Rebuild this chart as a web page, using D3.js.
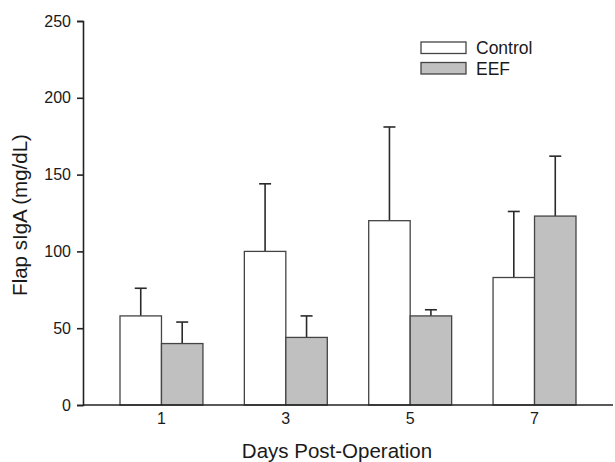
<!DOCTYPE html>
<html>
<head>
<meta charset="utf-8">
<script src="https://cdn.jsdelivr.net/npm/d3@7"></script>
<style>
  body { margin: 0; background: #fff; }
  text { font-family: "Liberation Sans", Arial, sans-serif; fill: #1a1a1a; }
</style>
</head>
<body>
<div id="chart"></div>
<script>
var days = ['1', '3', '5', '7']
var series = ['Control', 'EEF']
var controlMean = [58, 100, 120, 83]
var controlErr = [18, 44, 61, 43]
var eefMean = [40, 44, 58, 123]
var eefErr = [14, 14, 4, 39]
var yTicks = [0, 50, 100, 150, 200, 250]

var width = 615, height = 462
var margin = {top: 21, right: 2, bottom: 57, left: 83}

var svg = d3.select('#chart').append('svg')
    .attr('width', width).attr('height', height)

var y = d3.scaleLinear().domain([0, 250]).range([height - margin.bottom, margin.top])
var x = d3.scaleBand().domain(days).range([120, 576]).paddingInner(0.333).paddingOuter(0)
var xs = d3.scaleBand().domain(series).range([0, x.bandwidth()])
var fills = {Control: '#ffffff', EEF: '#c0c0c0'}

var rows = []
days.forEach(function(d, i){
  rows.push({day: d, s: 'Control', v: controlMean[i], e: controlErr[i]})
  rows.push({day: d, s: 'EEF', v: eefMean[i], e: eefErr[i]})
})

// error bars first, bars over them
var eb = svg.append('g').attr('stroke', '#2a2a2a').attr('stroke-width', 1.6)
rows.forEach(function(r){
  var cx = x(r.day) + xs(r.s) + xs.bandwidth() / 2
  eb.append('line').attr('x1', cx).attr('x2', cx).attr('y1', y(r.v)).attr('y2', y(r.v + r.e))
  eb.append('line').attr('x1', cx - 6).attr('x2', cx + 6).attr('y1', y(r.v + r.e)).attr('y2', y(r.v + r.e))
})

svg.append('g').selectAll('rect').data(rows).join('rect')
    .attr('x', function(r){ return x(r.day) + xs(r.s) })
    .attr('y', function(r){ return y(r.v) })
    .attr('width', xs.bandwidth())
    .attr('height', function(r){ return y(0) - y(r.v) })
    .attr('fill', function(r){ return fills[r.s] })
    .attr('stroke', '#444').attr('stroke-width', 1.3)

var yAxis = svg.append('g').attr('transform', 'translate(' + margin.left + ',0)')
    .call(d3.axisLeft(y).tickValues(yTicks).tickSize(6).tickPadding(6))
var xAxis = svg.append('g').attr('transform', 'translate(0,' + y(0) + ')')
    .call(d3.axisBottom(x).tickSize(0).tickPadding(8))
xAxis.select('.domain').attr('d', 'M' + margin.left + ',0H' + (width - margin.right))
;[yAxis, xAxis].forEach(function(a){
  a.attr('font-size', 16)
  a.selectAll('path,line').attr('stroke', '#222').attr('stroke-width', 1.6)
  a.selectAll('text').attr('font-size', 16).attr('fill', '#1a1a1a')
    .style('font-family', '"Liberation Sans", Arial, sans-serif')
})

svg.append('text').attr('x', 337).attr('y', 458).attr('text-anchor', 'middle')
    .attr('font-size', 20.5).text('Days Post-Operation')
svg.append('text').attr('transform', 'translate(27,215) rotate(-90)').attr('text-anchor', 'middle')
    .attr('font-size', 20.5).text('Flap sIgA (mg/dL)')

var legend = svg.append('g').attr('transform', 'translate(421,42)')
series.forEach(function(s, i){
  var g = legend.append('g').attr('transform', 'translate(0,' + i * 20.5 + ')')
  g.append('rect').attr('width', 45).attr('height', 11.5)
      .attr('fill', fills[s]).attr('stroke', '#444').attr('stroke-width', 1.3)
  g.append('text').attr('x', 55).attr('y', 12).attr('font-size', 17.5).text(s)
})
</script>
</body>
</html>
